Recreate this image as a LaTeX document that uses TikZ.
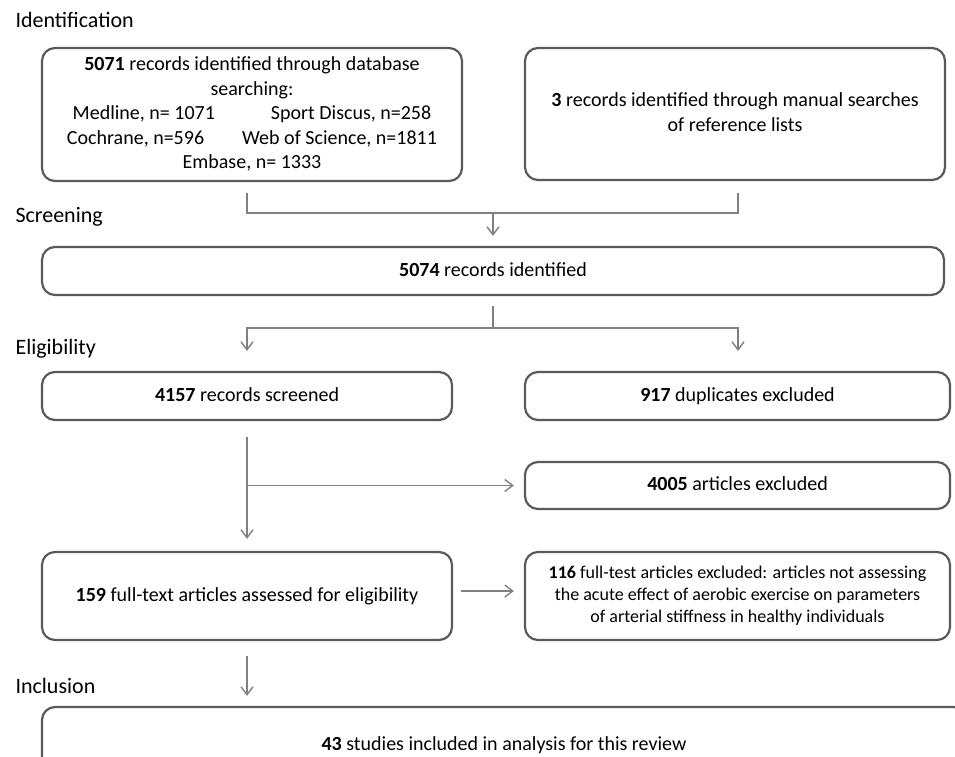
\documentclass[tikz,border=0pt]{standalone}
\usepackage{fontspec}
\setmainfont{Carlito}
\usepackage{xcolor}
\usetikzlibrary{arrows.meta, calc}

\definecolor{boxgray}{HTML}{5A5A5A}
\definecolor{linegray}{HTML}{808080}

\begin{document}
\begin{tikzpicture}[x=1pt, y=-1pt]
\useasboundingbox (0,0) rectangle (955,757);

\begin{scope}[every node/.style={anchor=west, font=\fontsize{22}{26}\selectfont}]
    \node (hId) at (12,20) {Identification};
    \node (hScr) at (12,217) {Screening};
    \node (hElig) at (12,349) {Eligibility};
    \node (hInc) at (12,686) {Inclusion};
\end{scope}

\begin{scope}[every node/.style={rectangle, draw=boxgray, line width=2.2pt, rounded corners=13pt,
              align=center, inner sep=0pt, font=\fontsize{20}{24.5}\selectfont,
              execute at begin node=\vphantom{Ag}}]
    \node[minimum width=420pt, minimum height=133pt] (A) at (252,114.5)
      {\textbf{5071} records identified through database\\ searching:\\
       Medline, n= 1071\hspace{56pt}Sport Discus, n=258\\
       Cochrane, n=596\hspace{38pt}Web of Science, n=1811\\
       Embase, n= 1333};
    \node[minimum width=420pt, minimum height=132pt] (B) at (735,114)
      {\textbf{3} records identified through manual searches\\ of reference lists};
    \node[minimum width=902pt, minimum height=48pt] (C) at (493,271) {\textbf{5074} records identified};
    \node[minimum width=410pt, minimum height=48pt] (D) at (247,396) {\textbf{4157} records screened};
    \node[minimum width=425pt, minimum height=48pt] (E) at (737.5,396) {\textbf{917} duplicates excluded};
    \node[minimum width=425pt, minimum height=47pt] (F) at (737.5,485.5) {\textbf{4005} articles excluded};
    \node[minimum width=410pt, minimum height=88pt] (G) at (247,596)
      {\textbf{159} full-text articles assessed for eligibility};
    \node[minimum width=425pt, minimum height=88pt, font=\fontsize{18}{22}\selectfont] (H) at (737.5,596)
      {\textbf{116} full-test articles excluded: articles not assessing\\
       the acute effect of aerobic exercise on parameters\\
       of arterial stiffness in healthy individuals};
    \node[minimum width=924pt, minimum height=76pt] (I) at (504,745)
      {\textbf{43} studies included in analysis for this review};
\end{scope}

\coordinate (cL) at (247,0);
\coordinate (cM) at (493,0);
\coordinate (cR) at (738,0);
\coordinate (m1) at (493,213);
\coordinate (m2) at (493,328);

\begin{scope}[>={Straight Barb[length=8pt, width=12pt]},
              every path/.style={draw=linegray, line width=1.4pt}]
    \path (A.south -| cL) [shorten <=11pt, shorten >=12pt] |- (m1) -| (B.south -| cR);
    \path [->, shorten >=10pt] (m1) -- (C.north -| cM);
    \path [shorten <=10pt] (C.south -| cM) -- (m2);
    \path [->, shorten >=20pt] (m2) -| (D.north);
    \path [->, shorten >=20pt] (m2) -| (E.north -| cR);
    \path [->, shorten <=16pt, shorten >=12pt] (D.south) -- (G.north);
    \path [->, shorten >=10pt] (D.south |- F.west) -- (F.west);
    \path [->, shorten <=8pt, shorten >=10pt] ([yshift=5pt]G.east) -- ([yshift=5pt]H.west);
    \path [->, shorten <=15pt, shorten >=10pt] (G.south) -- (I.north -| G.south);
\end{scope}

\end{tikzpicture}
\end{document}
